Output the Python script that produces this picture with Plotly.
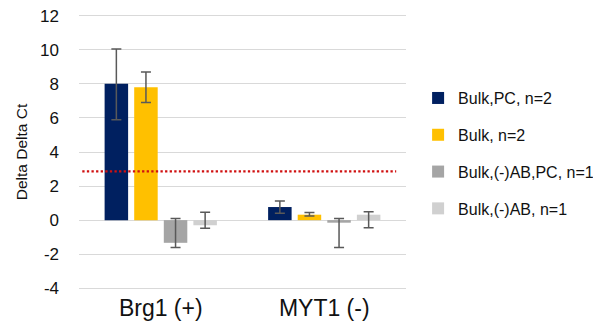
import plotly.graph_objects as go

categories = ["Brg1 (+)", "MYT1 (-)"]
series_names = ["Bulk,PC, n=2", "Bulk, n=2", "Bulk,(-)AB,PC, n=1", "Bulk,(-)AB, n=1"]
values = [
    [8.0, 0.77],
    [7.8, 0.32],
    [-1.33, -0.15],
    [-0.3, 0.32],
]
err_plus = [
    [2.05, 0.36],
    [0.9, 0.13],
    [1.42, 0.25],
    [0.77, 0.17],
]
err_minus = [
    [2.1, 0.36],
    [0.9, 0.07],
    [0.27, 1.45],
    [0.17, 0.77],
]
colors = ["#002060", "#FFC000", "#A5A5A5", "#D0D0D0"]
threshold = 2.86
y_ticks = [-4, -2, 0, 2, 4, 6, 8, 10, 12]
y_tick_labels = ["-4", "-2", "0", "2", "4", "6", "8", "10", "12"]

FONT = "Liberation Sans, Arial, sans-serif"

fig = go.Figure()
for i, name in enumerate(series_names):
    fig.add_trace(go.Bar(
        x=categories, y=values[i], name=name,
        marker=dict(color=colors[i], line=dict(width=0)),
        legendgroup=str(i),
        error_y=dict(type="data", symmetric=False, array=err_plus[i],
                     arrayminus=err_minus[i], color="#595959",
                     thickness=1.5, width=5),
    ))

fig.add_shape(type="line", xref="x", yref="y",
              x0=-0.48, x1=1.44, y0=threshold, y1=threshold,
              line=dict(color="#D01010", width=2.3, dash="2.3px,2.3px"),
              layer="above")

# page body has an 8px default margin, compensated in the margins below
fig.update_layout(
    width=601, height=324,
    margin=dict(l=71, r=203, t=6.3, b=42.3, autoexpand=False),
    paper_bgcolor="white", plot_bgcolor="white",
    barmode="group", bargap=0.276, bargroupgap=0.206,
    font=dict(family=FONT, color="#111111"),
    showlegend=True,
    legend=dict(x=1.037, xanchor="left", y=0.757, yanchor="top",
                xref="paper", yref="paper",
                font=dict(size=16, family=FONT, color="#111111"),
                tracegroupgap=13, itemclick=False,
                bgcolor="rgba(0,0,0,0)"),
    xaxis=dict(showgrid=False, showline=False, ticks="", automargin=False,
               ticklabelstandoff=2,
               tickfont=dict(size=23, family=FONT, color="#111111"),
               range=[-0.5, 1.5]),
    yaxis=dict(range=[-4.1, 12.1], tickvals=y_ticks, ticktext=y_tick_labels,
               showgrid=True, automargin=False, ticklabeloverflow="allow",
               gridcolor="#D9D9D9", gridwidth=1.3, zeroline=True,
               zerolinecolor="#D9D9D9", zerolinewidth=1.3,
               showline=False, ticks="", ticklabelstandoff=19,
               tickfont=dict(size=17, family=FONT, color="#111111"),
               title=dict(text="Delta Delta Ct", standoff=8,
                          font=dict(size=15.5, family=FONT, color="#111111"))),
)

fig.write_html("out.html")
